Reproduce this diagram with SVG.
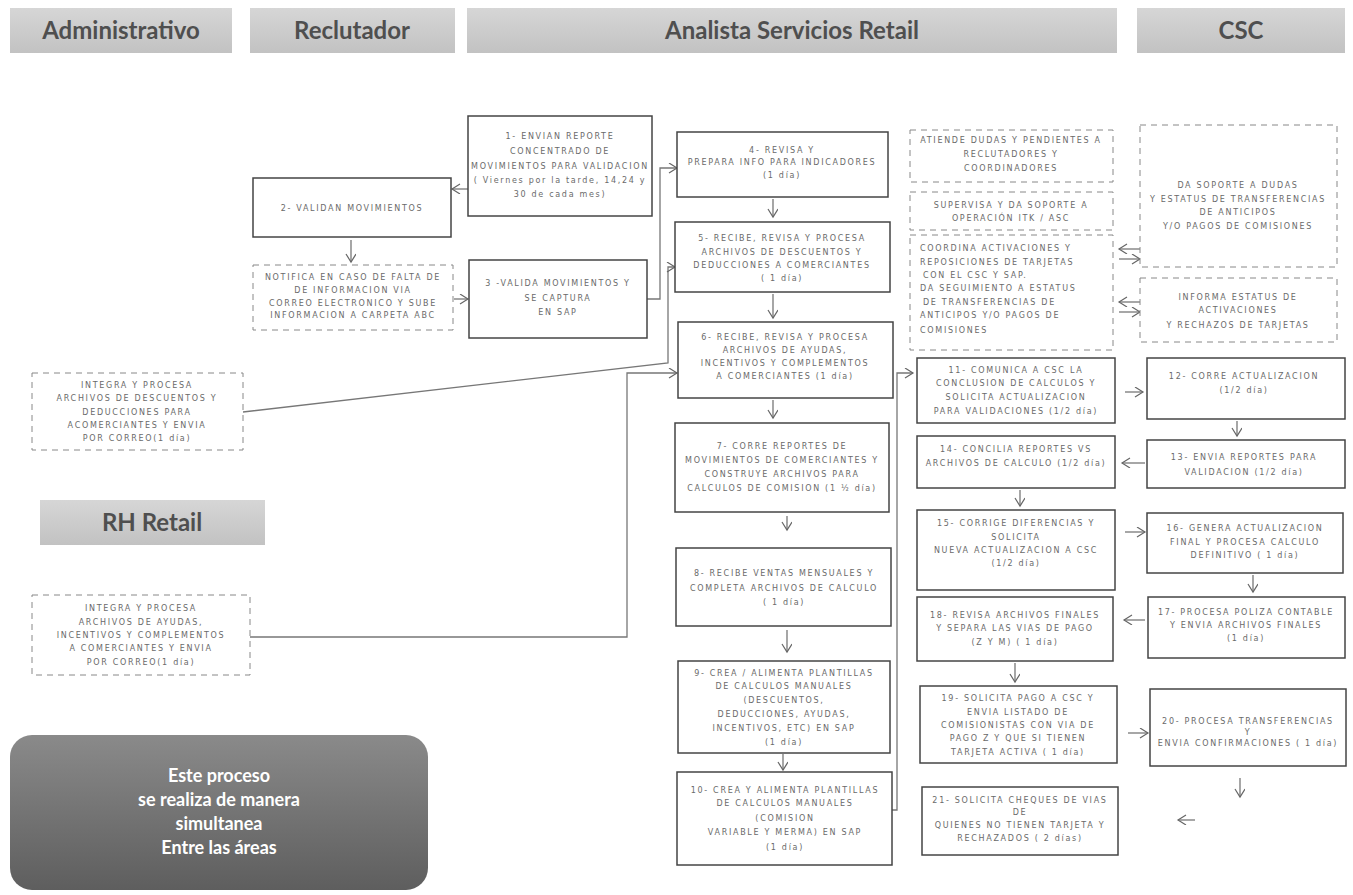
<svg xmlns="http://www.w3.org/2000/svg" width="1353" height="895" viewBox="0 0 1353 895">
<defs>
<linearGradient id="hdr" x1="0" y1="0" x2="0" y2="1"><stop offset="0" stop-color="#d6d6d6"/><stop offset="1" stop-color="#c2c2c2"/></linearGradient>
<linearGradient id="note" x1="0" y1="0" x2="0" y2="1"><stop offset="0" stop-color="#8a8a8a"/><stop offset="1" stop-color="#5e5e5e"/></linearGradient>
<marker id="ah" markerUnits="userSpaceOnUse" markerWidth="12" markerHeight="12" refX="9" refY="5" orient="auto"><path d="M1,0 L9,5 L1,10" fill="none" stroke="#666" stroke-width="1.2"/></marker>
<style>
.hd{fill:url(#hdr)}
.ht{font-family:Lato,"Open Sans",sans-serif;font-weight:bold;font-size:24px;fill:#4f4f4f;text-anchor:middle}
.bx{fill:#fff;stroke:#444;stroke-width:1.5}
.db{fill:#fff;stroke:#888;stroke-width:1;stroke-dasharray:6,5}
.t{font-family:"DejaVu Sans",sans-serif;font-size:8px;letter-spacing:1.7px;fill:#6a6a6a;text-anchor:middle}
.tl{font-family:"DejaVu Sans",sans-serif;font-size:8px;letter-spacing:1.7px;fill:#6a6a6a}
.c{fill:none;stroke:#777;stroke-width:1.3;marker-end:url(#ah)}
.nt{font-family:Lato,"Open Sans",sans-serif;font-weight:bold;font-size:18px;fill:#fff;text-anchor:middle}
</style>
</defs>
<rect width="1353" height="895" fill="#fff"/>

<g id="headers">
<rect class="hd" x="10" y="8" width="222" height="45"/><text class="ht" x="121" y="39">Administrativo</text>
<rect class="hd" x="250" y="8" width="205" height="45"/><text class="ht" x="352" y="39">Reclutador</text>
<rect class="hd" x="467" y="8" width="650" height="45"/><text class="ht" x="792" y="39">Analista Servicios Retail</text>
<rect class="hd" x="1137" y="8" width="208" height="45"/><text class="ht" x="1241" y="39">CSC</text>
<rect class="hd" x="40" y="500" width="225" height="45"/><text class="ht" x="152" y="531">RH Retail</text>
</g>

<g id="note">
<rect x="10" y="735" width="418" height="155" rx="22" fill="url(#note)"/>
<text class="nt" x="219" y="782">Este proceso</text>
<text class="nt" x="219" y="806">se realiza de manera</text>
<text class="nt" x="219" y="830">simultanea</text>
<text class="nt" x="219" y="854">Entre las áreas</text>
</g>

<g id="connectors">
<line class="c" x1="468" y1="189" x2="452" y2="189"/>
<line class="c" x1="351" y1="240" x2="351" y2="262"/>
<line class="c" x1="454" y1="299" x2="468" y2="299"/>
<polyline class="c" points="647,299 660,299 660,168 677,168"/>
<polyline class="c" points="243,412 668,363 668,267 675,267"/>
<polyline class="c" points="250,637 627,637 627,373 677,373"/>
<line class="c" x1="773" y1="199" x2="773" y2="217"/>
<line class="c" x1="773" y1="294" x2="773" y2="318"/>
<line class="c" x1="773" y1="400" x2="773" y2="418"/>
<line class="c" x1="787" y1="516" x2="787" y2="530"/>
<line class="c" x1="787" y1="630" x2="787" y2="652"/>
<line class="c" x1="783" y1="754" x2="783" y2="770"/>
<polyline class="c" points="892,810 897,810 897,373 913,373"/>
<line class="c" x1="1125" y1="392" x2="1143" y2="392"/>
<line class="c" x1="1237" y1="421" x2="1237" y2="436"/>
<line class="c" x1="1145" y1="463" x2="1122" y2="463"/>
<line class="c" x1="1020" y1="490" x2="1020" y2="506"/>
<line class="c" x1="1125" y1="532" x2="1145" y2="532"/>
<line class="c" x1="1253" y1="575" x2="1253" y2="592"/>
<line class="c" x1="1145" y1="620" x2="1124" y2="620"/>
<line class="c" x1="1015" y1="663" x2="1015" y2="682"/>
<line class="c" x1="1128" y1="733" x2="1148" y2="733"/>
<line class="c" x1="1240" y1="778" x2="1240" y2="797"/>
<line class="c" x1="1195" y1="820" x2="1178" y2="820"/>
<line class="c" x1="1140" y1="249" x2="1119" y2="249"/>
<line class="c" x1="1119" y1="259" x2="1140" y2="259"/>
<line class="c" x1="1140" y1="302" x2="1119" y2="302"/>
<line class="c" x1="1119" y1="312" x2="1140" y2="312"/>
</g>

<g id="n1"><rect class="bx" x="468" y="116" width="184" height="100"/>
<text class="t" x="560" y="139">1- ENVIAN REPORTE</text>
<text class="t" x="560" y="154">CONCENTRADO DE</text>
<text class="t" x="560" y="169">MOVIMIENTOS PARA VALIDACION</text>
<text class="t" x="560" y="183">( Viernes por la tarde, 14,24 y</text>
<text class="t" x="560" y="197">30 de cada mes)</text></g>

<g id="n2"><rect class="bx" x="253" y="178" width="198" height="59"/>
<text class="t" x="352" y="211">2- VALIDAN MOVIMIENTOS</text></g>

<g id="notifica"><rect class="db" x="253" y="265" width="200" height="65"/>
<text class="t" x="353" y="280">NOTIFICA EN CASO DE FALTA DE</text>
<text class="t" x="353" y="293">DE INFORMACION VIA</text>
<text class="t" x="353" y="306">CORREO ELECTRONICO Y SUBE</text>
<text class="t" x="353" y="318">INFORMACION A CARPETA ABC</text></g>

<g id="n3"><rect class="bx" x="469" y="260" width="178" height="78"/>
<text class="t" x="558" y="286">3 -VALIDA MOVIMIENTOS Y</text>
<text class="t" x="558" y="301">SE CAPTURA</text>
<text class="t" x="558" y="315">EN SAP</text></g>

<g id="integra1"><rect class="db" x="32" y="373" width="211" height="77"/>
<text class="t" x="137" y="388">INTEGRA Y PROCESA</text>
<text class="t" x="137" y="401">ARCHIVOS DE DESCUENTOS Y</text>
<text class="t" x="137" y="415">DEDUCCIONES PARA</text>
<text class="t" x="137" y="428">ACOMERCIANTES Y ENVIA</text>
<text class="t" x="137" y="441">POR CORREO(1 día)</text></g>

<g id="integra2"><rect class="db" x="32" y="595" width="218" height="80"/>
<text class="t" x="141" y="611">INTEGRA Y PROCESA</text>
<text class="t" x="141" y="625">ARCHIVOS DE AYUDAS,</text>
<text class="t" x="141" y="638">INCENTIVOS Y COMPLEMENTOS</text>
<text class="t" x="141" y="651">A COMERCIANTES Y ENVIA</text>
<text class="t" x="141" y="665">POR CORREO(1 día)</text></g>

<g id="n4"><rect class="bx" x="677" y="132" width="211" height="65"/>
<text class="t" x="782" y="153">4- REVISA Y</text>
<text class="t" x="782" y="165">PREPARA INFO PARA INDICADORES</text>
<text class="t" x="782" y="178">(1 día)</text></g>

<g id="n5"><rect class="bx" x="675" y="222" width="215" height="70"/>
<text class="t" x="782" y="241">5- RECIBE, REVISA Y PROCESA</text>
<text class="t" x="782" y="255">ARCHIVOS DE DESCUENTOS Y</text>
<text class="t" x="782" y="268">DEDUCCIONES A COMERCIANTES</text>
<text class="t" x="782" y="281">( 1 día)</text></g>

<g id="n6"><rect class="bx" x="678" y="322" width="215" height="76"/>
<text class="t" x="785" y="340">6- RECIBE, REVISA Y PROCESA</text>
<text class="t" x="785" y="353">ARCHIVOS DE AYUDAS,</text>
<text class="t" x="785" y="366">INCENTIVOS Y COMPLEMENTOS</text>
<text class="t" x="785" y="379">A COMERCIANTES (1 día)</text></g>

<g id="n7"><rect class="bx" x="675" y="423" width="214" height="89"/>
<text class="t" x="782" y="449">7- CORRE REPORTES DE</text>
<text class="t" x="782" y="463">MOVIMIENTOS DE COMERCIANTES Y</text>
<text class="t" x="782" y="477">CONSTRUYE ARCHIVOS PARA</text>
<text class="t" x="782" y="491">CALCULOS DE COMISION (1 ½ día)</text></g>

<g id="n8"><rect class="bx" x="676" y="548" width="215" height="78"/>
<text class="t" x="784" y="576">8- RECIBE VENTAS MENSUALES Y</text>
<text class="t" x="784" y="591">COMPLETA ARCHIVOS DE CALCULO</text>
<text class="t" x="784" y="605">( 1 día)</text></g>

<g id="n9"><rect class="bx" x="678" y="661" width="212" height="92"/>
<text class="t" x="784" y="676">9- CREA / ALIMENTA PLANTILLAS</text>
<text class="t" x="784" y="689">DE CALCULOS MANUALES</text>
<text class="t" x="784" y="703">(DESCUENTOS,</text>
<text class="t" x="784" y="717">DEDUCCIONES, AYUDAS,</text>
<text class="t" x="784" y="731">INCENTIVOS, ETC) EN SAP</text>
<text class="t" x="784" y="745">(1 día)</text></g>

<g id="n10"><rect class="bx" x="677" y="772" width="215" height="93"/>
<text class="t" x="785" y="793">10- CREA Y ALIMENTA PLANTILLAS</text>
<text class="t" x="785" y="806">DE CALCULOS MANUALES</text>
<text class="t" x="785" y="821">(COMISION</text>
<text class="t" x="785" y="835">VARIABLE Y MERMA) EN SAP</text>
<text class="t" x="785" y="850">(1 día)</text></g>

<g id="atiende"><rect class="db" x="910" y="130" width="203" height="52"/>
<text class="t" x="1011" y="143">ATIENDE DUDAS Y PENDIENTES A</text>
<text class="t" x="1011" y="157">RECLUTADORES Y</text>
<text class="t" x="1011" y="171">COORDINADORES</text></g>

<g id="supervisa"><rect class="db" x="910" y="192" width="203" height="38"/>
<text class="t" x="1011" y="208">SUPERVISA Y DA SOPORTE A</text>
<text class="t" x="1011" y="221">OPERACIÓN ITK / ASC</text></g>

<g id="coordina"><rect class="db" x="910" y="235" width="203" height="115"/>
<text class="tl" x="920" y="251">COORDINA ACTIVACIONES Y</text>
<text class="tl" x="920" y="265">REPOSICIONES DE TARJETAS</text>
<text class="tl" x="923" y="278">CON EL CSC Y SAP.</text>
<text class="tl" x="920" y="291">DA SEGUIMIENTO A ESTATUS</text>
<text class="tl" x="923" y="305">DE TRANSFERENCIAS DE</text>
<text class="tl" x="920" y="318">ANTICIPOS Y/O PAGOS DE</text>
<text class="tl" x="920" y="333">COMISIONES</text></g>

<g id="csc-soporte"><rect class="db" x="1140" y="125" width="197" height="142"/>
<text class="t" x="1238" y="188">DA SOPORTE A DUDAS</text>
<text class="t" x="1238" y="202">Y ESTATUS DE TRANSFERENCIAS</text>
<text class="t" x="1238" y="215">DE ANTICIPOS</text>
<text class="t" x="1238" y="229">Y/O PAGOS DE COMISIONES</text></g>

<g id="csc-informa"><rect class="db" x="1140" y="278" width="197" height="64"/>
<text class="t" x="1238" y="300">INFORMA ESTATUS DE</text>
<text class="t" x="1238" y="313">ACTIVACIONES</text>
<text class="t" x="1238" y="328">Y RECHAZOS DE TARJETAS</text></g>

<g id="n11"><rect class="bx" x="917" y="358" width="198" height="65"/>
<text class="t" x="1016" y="373">11- COMUNICA A CSC LA</text>
<text class="t" x="1016" y="386">CONCLUSION DE CALCULOS Y</text>
<text class="t" x="1016" y="400">SOLICITA ACTUALIZACION</text>
<text class="t" x="1016" y="414">PARA VALIDACIONES (1/2 día)</text></g>

<g id="n12"><rect class="bx" x="1147" y="358" width="198" height="61"/>
<text class="t" x="1244" y="379">12- CORRE ACTUALIZACION</text>
<text class="t" x="1244" y="393">(1/2 día)</text></g>

<g id="n13"><rect class="bx" x="1147" y="440" width="198" height="48"/>
<text class="t" x="1244" y="460">13- ENVIA REPORTES PARA</text>
<text class="t" x="1244" y="475">VALIDACION (1/2 día)</text></g>

<g id="n14"><rect class="bx" x="917" y="436" width="198" height="52"/>
<text class="t" x="1016" y="452">14- CONCILIA REPORTES VS</text>
<text class="t" x="1016" y="466">ARCHIVOS DE CALCULO (1/2 día)</text></g>

<g id="n15"><rect class="bx" x="917" y="510" width="198" height="80"/>
<text class="t" x="1016" y="526">15- CORRIGE DIFERENCIAS Y</text>
<text class="t" x="1016" y="540">SOLICITA</text>
<text class="t" x="1016" y="553">NUEVA ACTUALIZACION A CSC</text>
<text class="t" x="1016" y="566">(1/2 día)</text></g>

<g id="n16"><rect class="bx" x="1147" y="513" width="196" height="60"/>
<text class="t" x="1245" y="531">16- GENERA ACTUALIZACION</text>
<text class="t" x="1245" y="545">FINAL Y PROCESA CALCULO</text>
<text class="t" x="1245" y="558">DEFINITIVO ( 1 día)</text></g>

<g id="n17"><rect class="bx" x="1148" y="597" width="197" height="61"/>
<text class="t" x="1246" y="615">17- PROCESA POLIZA CONTABLE</text>
<text class="t" x="1246" y="628">Y ENVIA ARCHIVOS FINALES</text>
<text class="t" x="1246" y="641">(1 día)</text></g>

<g id="n18"><rect class="bx" x="917" y="597" width="196" height="64"/>
<text class="t" x="1015" y="618">18- REVISA ARCHIVOS FINALES</text>
<text class="t" x="1015" y="631">Y SEPARA LAS VIAS DE PAGO</text>
<text class="t" x="1015" y="645">(Z Y M) ( 1 día)</text></g>

<g id="n19"><rect class="bx" x="920" y="686" width="197" height="77"/>
<text class="t" x="1018" y="701">19- SOLICITA PAGO A CSC Y</text>
<text class="t" x="1018" y="715">ENVIA LISTADO DE</text>
<text class="t" x="1018" y="728">COMISIONISTAS CON VIA DE</text>
<text class="t" x="1018" y="741">PAGO Z Y QUE SI TIENEN</text>
<text class="t" x="1018" y="755">TARJETA ACTIVA ( 1 día)</text></g>

<g id="n20"><rect class="bx" x="1150" y="689" width="196" height="77"/>
<text class="t" x="1248" y="724">20- PROCESA TRANSFERENCIAS</text>
<text class="t" x="1248" y="735">Y</text>
<text class="t" x="1248" y="746">ENVIA CONFIRMACIONES ( 1 día)</text></g>

<g id="n21"><rect class="bx" x="922" y="787" width="196" height="68"/>
<text class="t" x="1020" y="803">21- SOLICITA CHEQUES DE VIAS</text>
<text class="t" x="1020" y="815">DE</text>
<text class="t" x="1020" y="828">QUIENES NO TIENEN TARJETA Y</text>
<text class="t" x="1020" y="841">RECHAZADOS ( 2 días)</text></g>
</svg>
